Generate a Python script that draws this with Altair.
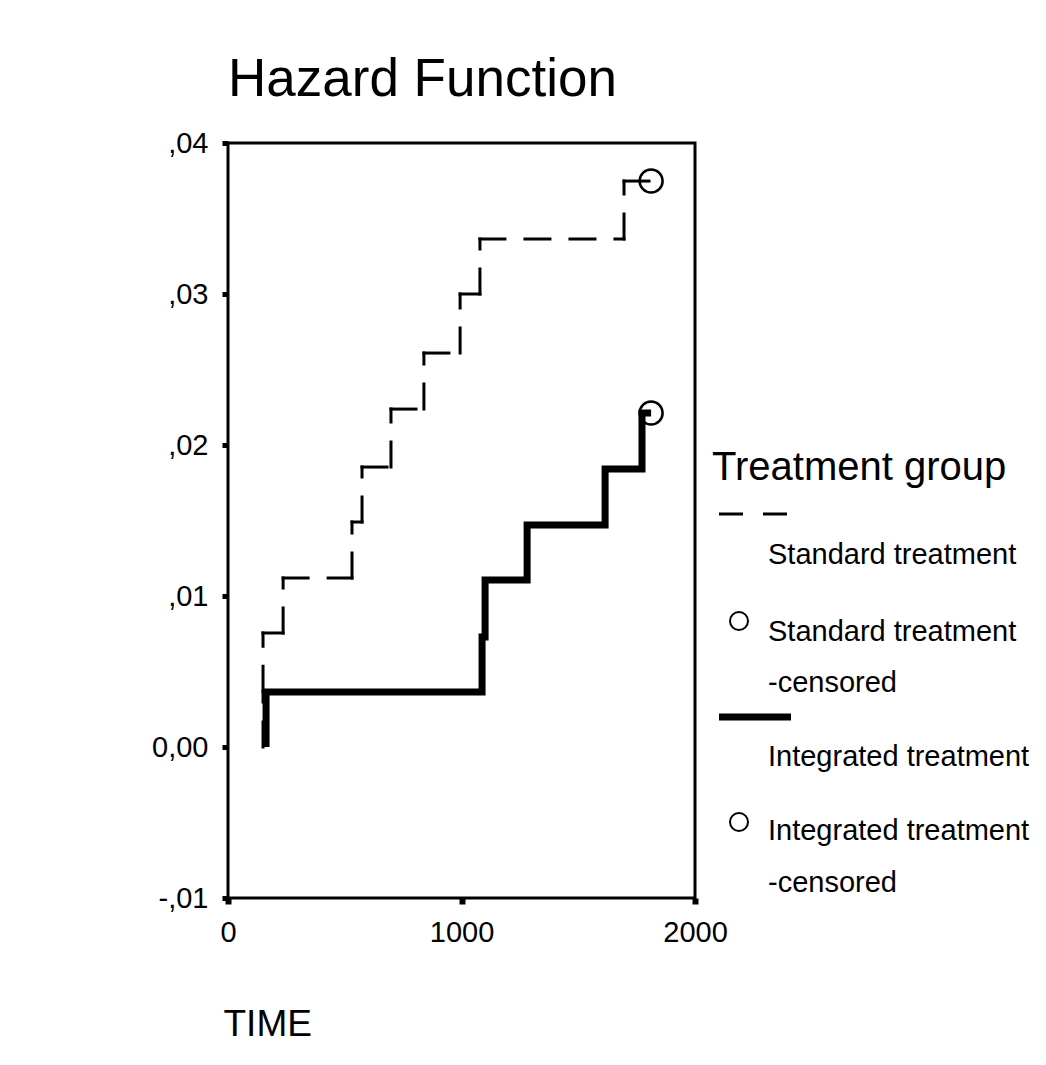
import altair as alt
import pandas as pd

# ---- data ----
groups = ["Standard treatment", "Integrated treatment"]
std_time = [150, 150, 150, 236, 531, 574, 698, 839, 994, 1079, 1696, 1812]
std_hazard = [0.0, 0.0037, 0.00755, 0.01119, 0.0149, 0.01854, 0.02238, 0.02609, 0.03, 0.03364, 0.03748, 0.03748]
int_time = [163, 163, 1088, 1101, 1281, 1615, 1773, 1812]
int_hazard = [0.0, 0.00364, 0.00728, 0.01106, 0.0147, 0.01841, 0.02212, 0.02212]
cens_time = [1812, 1812]
cens_hazard = [0.03748, 0.02212]
x_ticks = [0, 1000, 2000]
y_ticks = [-0.01, 0.0, 0.01, 0.02, 0.03, 0.04]
chart_title = "Hazard Function"
x_title = "TIME"
legend_title = "Treatment group"
legend_lines = ["Standard treatment", "Standard treatment", "-censored",
                "Integrated treatment", "Integrated treatment", "-censored"]

FONT = "Liberation Sans"


def step_segments(times, values):
    """Split a step-after curve into its horizontal and vertical pieces."""
    rows = []
    for i in range(len(times) - 1):
        t0, t1 = times[i], times[i + 1]
        v0, v1 = values[i], values[i + 1]
        if t1 != t0:
            rows.append({"t": t0, "t2": t1, "h": v0, "h2": v0})
        if v1 != v0:
            rows.append({"t": t1, "t2": t1, "h": v0, "h2": v1})
    return pd.DataFrame(rows)


df_std_seg = step_segments(std_time, std_hazard)
df_int = pd.DataFrame({"time": int_time, "hazard": int_hazard,
                       "idx": list(range(len(int_time))), "group": groups[1]})
df_cens = pd.DataFrame({"time": cens_time, "hazard": cens_hazard, "group": groups})
one = pd.DataFrame({"k": [0]})

xs = alt.Scale(domain=[0, 2000], nice=False, zero=False)
ys = alt.Scale(domain=[-0.01, 0.04], nice=False, zero=False)

x_axis = alt.Axis(values=x_ticks, format="d", title=x_title, grid=False, domain=False,
                  tickSize=6, tickWidth=6, labelFontSize=29, labelPadding=14,
                  labelFlush=False, labelOverlap=False, labelAngle=0,
                  titleAnchor="start", titleAlign="left", titleBaseline="alphabetic",
                  titleX=-5, titleY=137, titleFontSize=37, titleFontWeight="normal")
y_axis = alt.Axis(values=y_ticks, title=None, grid=False, domain=False,
                  tickSize=6, tickWidth=5, labelFontSize=29, labelPadding=14,
                  labelFlush=False, labelOverlap=False,
                  labelExpr="abs(datum.value) < 1e-9 ? '0,00' : "
                            "replace(replace(format(datum.value, '.2f'), '0.', ','), '\u2212', '-')")

# dashed curve: each step piece restarts its dash pattern, as in the original
line_std = alt.Chart(df_std_seg).mark_rule(
    color="black", strokeWidth=3, strokeDash=[25, 20], strokeCap="square"
).encode(
    x=alt.X("t:Q", scale=xs, axis=x_axis),
    x2="t2:Q",
    y=alt.Y("h:Q", scale=ys, axis=y_axis),
    y2="h2:Q",
)

line_int = alt.Chart(df_int).mark_line(
    interpolate="step-after", color="black", strokeWidth=7,
    strokeCap="butt", strokeJoin="miter"
).encode(x=alt.X("time:Q", scale=xs), y=alt.Y("hazard:Q", scale=ys),
         order=alt.Order("idx:Q"))

pts = alt.Chart(df_cens).mark_point(
    shape="circle", filled=False, size=529, strokeWidth=2.5, color="black", opacity=1
).encode(x=alt.X("time:Q", scale=xs), y=alt.Y("hazard:Q", scale=ys))


def lg_text(txt, x, y, size=29, baseline="middle"):
    return alt.Chart(one).mark_text(
        align="left", baseline=baseline, font=FONT, fontSize=size, color="black"
    ).encode(x=alt.value(x), y=alt.value(y), text=alt.value(txt))


def lg_rule(x1, x2, y, width, dash=None):
    kw = dict(color="black", strokeWidth=width, strokeCap="butt")
    if dash:
        kw["strokeDash"] = dash
    return alt.Chart(one).mark_rule(**kw).encode(
        x=alt.value(x1), x2=alt.value(x2), y=alt.value(y))


def lg_circle(x, y):
    return alt.Chart(one).mark_point(
        shape="circle", filled=False, size=324, strokeWidth=2, color="black", opacity=1
    ).encode(x=alt.value(x), y=alt.value(y))


legend = [
    lg_text(legend_title, 484, 337, size=40, baseline="alphabetic"),
    lg_rule(491, 563, 371, 3, [24, 20]),
    lg_text(legend_lines[0], 540, 412),
    lg_circle(511, 478),
    lg_text(legend_lines[1], 540, 489),
    lg_text(legend_lines[2], 540, 540),
    lg_rule(491, 563, 574, 7),
    lg_text(legend_lines[3], 540, 614),
    lg_circle(511, 679),
    lg_text(legend_lines[4], 540, 688),
    lg_text(legend_lines[5], 540, 740),
]

chart = alt.layer(line_std, line_int, pts, *legend).properties(
    width=467, height=755,
    autosize=alt.AutoSizeParams(type="none"),
    padding={"left": 220, "top": 135, "right": 343, "bottom": 150},
    title=alt.TitleParams(text=chart_title, anchor="start", frame="group", fontSize=53,
                          font=FONT, fontWeight="normal", color="black", offset=22),
).configure_view(
    stroke="black", strokeWidth=3
).configure_axis(
    labelFont=FONT, titleFont=FONT, labelColor="black", titleColor="black",
    tickColor="black"
)

chart.save("out.html", embed_options={"renderer": "svg", "actions": False})
